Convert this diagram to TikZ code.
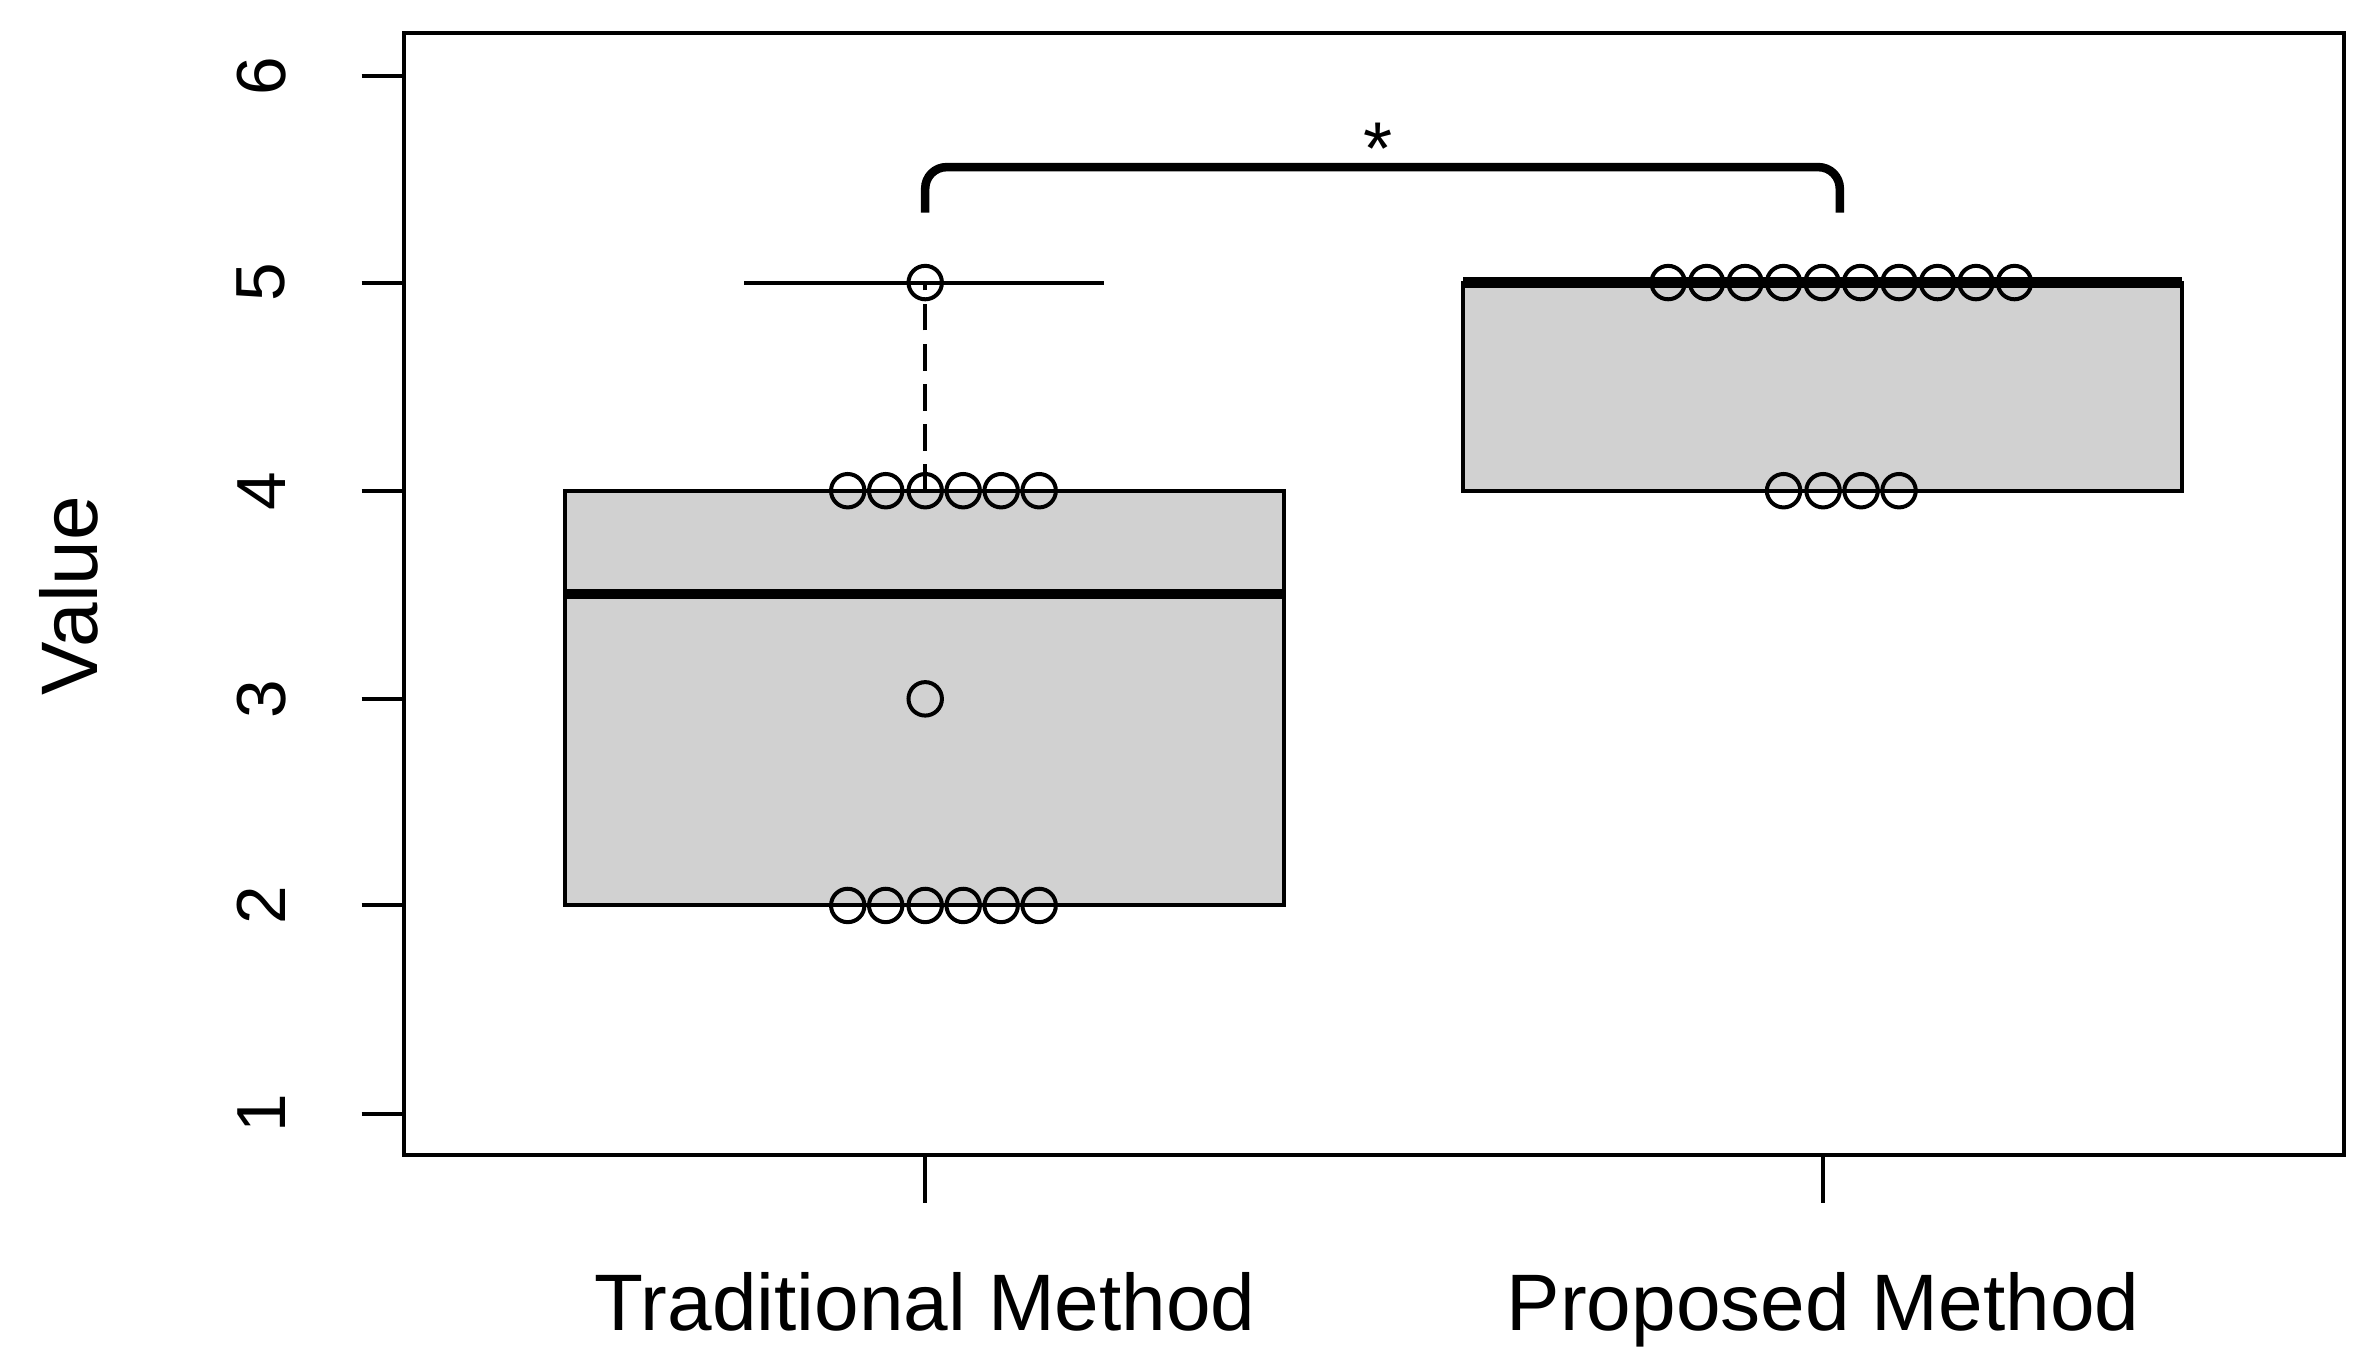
\documentclass[tikz,border=0pt]{standalone}
\usepackage{fontspec}
\setmainfont{Liberation Sans}
\begin{document}
\begin{tikzpicture}[x=0.01cm,y=-0.01cm,
  ln/.style={line width=0.75pt,black},
  pt/.style={ln,circle,draw,minimum size=0.22cm,inner sep=0pt},
  tick/.style={font=\fontsize{13}{13}\selectfont,rotate=90},
  lab/.style={font=\fontsize{15}{15}\selectfont}]
\useasboundingbox (0,0) rectangle (1560,894);
% boxes
\draw[ln,fill=black!18] (372,323) rectangle (845,596);
\draw[line width=2pt] (372,391) -- (845,391);
\draw[ln,dash pattern=on 5pt off 2.5pt] (609,323) -- (609,186);
\draw[ln] (490,186) -- (727,186);
\draw[ln] (490,596) -- (727,596);
\draw[ln,fill=black!18] (963,186) rectangle (1436,323);
\draw[ln] (1081,323) -- (1318,323);
\draw[line width=2pt] (963,186) -- (1436,186);
% frame
\draw[ln] (266,22) rectangle (1543,760);
% y axis
\foreach \v/\y in {6/50,5/186,4/323,3/460,2/596,1/733}{
  \draw[ln] (238,\y) -- (266,\y);
  \node[tick] (t\v) at (172,\y) {\v};
}
\node[lab,rotate=90] (val) at (45,392) {Value};
% x axis
\draw[ln] (609,760) -- (609,792);
\draw[ln] (1200,760) -- (1200,792);
\node[lab,anchor=base] (xa) at (609,876) {Traditional Method};
\node[lab,anchor=base] (xb) at (1200,876) {Proposed Method};
% points
\foreach \x in {558,583,609,634,659,684}{
  \node[pt] at (\x,323) {};
  \node[pt] at (\x,596) {};
}
\node[pt] (p3) at (609,460) {};
\node[pt] (p5) at (609,186) {};
\foreach \i in {0,...,9}{ \node[pt] at (1098+25.33*\i,186) {}; }
\foreach \x in {1174,1200,1225,1250}{ \node[pt] at (\x,323) {}; }
% bracket
\draw[line width=1.6pt,rounded corners=4pt] (609,140) -- (609,110) -- (1211,110) -- (1211,140);
\node[font=\fontsize{14}{14}\selectfont] (star) at (907,98) {*};
\end{tikzpicture}
\end{document}
